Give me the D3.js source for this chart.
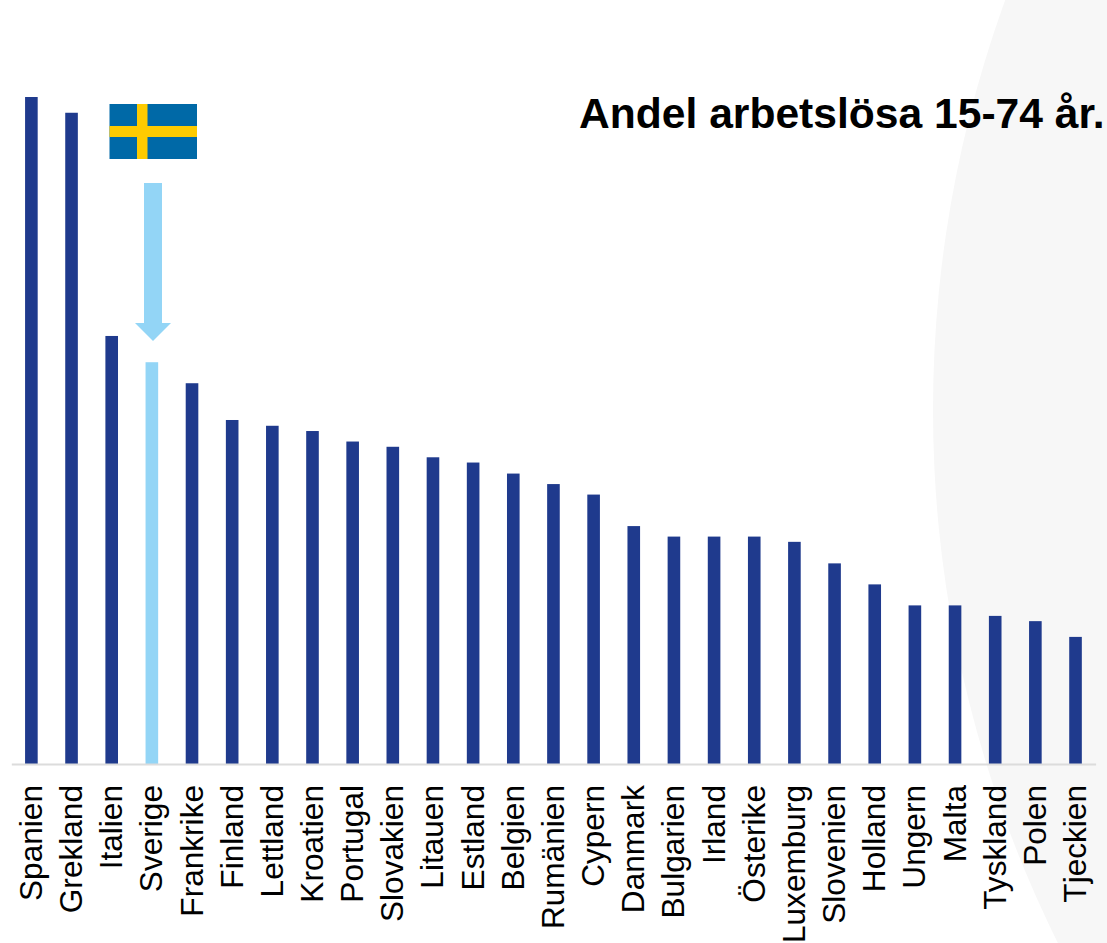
<!DOCTYPE html>
<html>
<head>
<meta charset="utf-8">
<script src="https://cdn.jsdelivr.net/npm/d3@7"></script>
<style>
  html, body { margin: 0; padding: 0; background: #fff; }
  svg { display: block; }
  text { font-family: "Liberation Sans", Arial, sans-serif; fill: #000; }
</style>
</head>
<body>
<div id="wrapper"></div>
<script>
const countries = ["Spanien", "Grekland", "Italien", "Sverige", "Frankrike", "Finland", "Lettland", "Kroatien", "Portugal", "Slovakien", "Litauen", "Estland", "Belgien", "Rumänien", "Cypern", "Danmark", "Bulgarien", "Irland", "Österike", "Luxemburg", "Slovenien", "Holland", "Ungern", "Malta", "Tyskland", "Polen", "Tjeckien"];
const rates = [12.7, 12.4, 8.15, 7.65, 7.25, 6.55, 6.44, 6.34, 6.14, 6.04, 5.84, 5.74, 5.53, 5.33, 5.13, 4.53, 4.33, 4.33, 4.33, 4.23, 3.82, 3.42, 3.02, 3.02, 2.82, 2.72, 2.42];
const highlight = "Sverige";
const title = "Andel arbetslösa 15-74 år.";

const dimensions = { width: 1107, height: 943, left: 11.3, right: 1095.6, baseline: 764 };

const svg = d3.select("#wrapper").append("svg")
  .attr("width", dimensions.width)
  .attr("height", dimensions.height);

// pale circle in the background
svg.append("circle")
  .attr("cx", 2133).attr("cy", 410).attr("r", 1200)
  .attr("fill", "#f7f7f7");

const xScale = d3.scaleBand()
  .domain(countries)
  .range([dimensions.left, dimensions.right])
  .paddingInner(0.686)
  .paddingOuter(0.343);

const yScale = d3.scaleLinear()
  .domain([0, 12.7])
  .range([dimensions.baseline, 97]);

svg.selectAll("rect.bar")
  .data(countries)
  .enter().append("rect")
    .attr("class", "bar")
    .attr("x", (d) => xScale(d))
    .attr("y", (d, i) => yScale(rates[i]))
    .attr("width", xScale.bandwidth())
    .attr("height", (d, i) => yScale(0) - yScale(rates[i]))
    .attr("fill", (d) => d == highlight ? "#93d5f6" : "#1f3a8d");

const xAxis = svg.append("g")
  .attr("transform", `translate(0, ${dimensions.baseline})`)
  .call(d3.axisBottom(xScale).tickSize(0).tickPadding(0));
xAxis.select(".domain").attr("stroke", "#dcdcdc").attr("stroke-width", 2);
xAxis.selectAll("text")
  .attr("transform", "translate(10.5, 21) rotate(-90)")
  .attr("x", 0).attr("y", 0).attr("dy", 0)
  .attr("text-anchor", "end")
  .style("font-size", "31.6px")
  .style("font-family", '"Liberation Sans", Arial, sans-serif');

svg.append("text")
  .attr("x", 579).attr("y", 128)
  .attr("font-size", 42.6).attr("font-weight", "bold")
  .text(title);

// flag
const flag = svg.append("g").attr("transform", "translate(109.5, 104)");
flag.append("rect").attr("width", 87.5).attr("height", 55).attr("fill", "#0069a7");
flag.append("rect").attr("x", 27.5).attr("width", 10.5).attr("height", 55).attr("fill", "#fecb00");
flag.append("rect").attr("y", 22).attr("width", 87.5).attr("height", 11).attr("fill", "#fecb00");

// arrow down to Sverige
svg.append("path")
  .attr("d", "M144,183H162V323H171L153,341L135,323H144Z")
  .attr("fill", "#93d5f6");
</script>
</body>
</html>
